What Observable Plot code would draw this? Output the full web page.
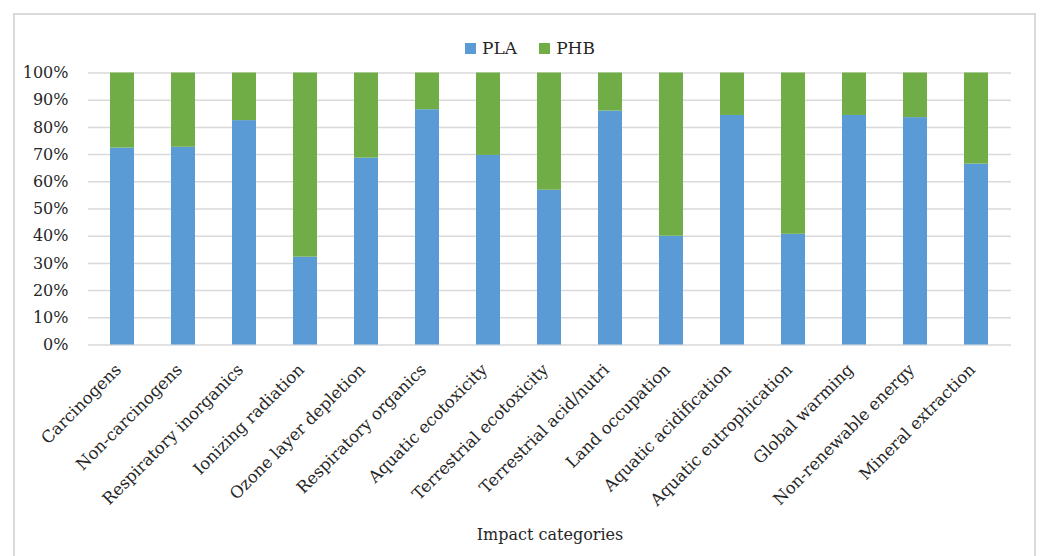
<!DOCTYPE html>
<html>
<head>
<meta charset="utf-8">
<script src="https://cdn.jsdelivr.net/npm/d3@7"></script>
<script src="https://cdn.jsdelivr.net/npm/@observablehq/plot@0.6"></script>
<style>
  body { margin: 0; background: #fff; overflow: hidden; font-family: "DejaVu Serif", serif; color: #262626; }
  #frame { position: absolute; left: 13px; top: 13px; width: 1023px; height: 620px; border: 2px solid #d9d9d9; box-sizing: border-box; pointer-events: none; }
  #legend { height: 60px; box-sizing: border-box; padding-top: 36px; display: flex; justify-content: center; gap: 22px; margin-left: 20px; font-size: 17px; line-height: 24px; }
  .item { display: flex; align-items: center; gap: 6px; }
  .swatch { width: 11px; height: 11px; display: inline-block; }
  #chart svg { display: block; }
</style>
</head>
<body>
<div id="frame"></div>
<div id="legend"></div>
<div id="chart"></div>
<script>
// Impact categories along the x axis
const categories = [
  "Carcinogens", "Non-carcinogens", "Respiratory inorganics", "Ionizing radiation",
  "Ozone layer depletion", "Respiratory organics", "Aquatic ecotoxicity",
  "Terrestrial ecotoxicity", "Terrestrial acid/nutri", "Land occupation",
  "Aquatic acidification", "Aquatic eutrophication", "Global warming",
  "Non-renewable energy", "Mineral extraction"
];

// Share of each impact (%) per material
const plaShare = [72.4, 72.7, 82.5, 32.3, 68.7, 86.5, 69.7, 56.9, 86.0, 40.0, 84.4, 40.7, 84.4, 83.6, 66.5];
const phbShare = [27.6, 27.3, 17.5, 67.7, 31.3, 13.5, 30.3, 43.1, 14.0, 60.0, 15.6, 59.3, 15.6, 16.4, 33.5];

const seriesNames = ["PLA", "PHB"];
const seriesColors = ["#5b9bd5", "#70ad47"];
const yTicks = [0, 10, 20, 30, 40, 50, 60, 70, 80, 90, 100];
const xTitle = "Impact categories";

// Long-format rows, PLA first so it sits at the bottom of each stack
const rows = [];
categories.forEach((c, i) => {
  rows.push({category: c, series: "PLA", value: plaShare[i]});
  rows.push({category: c, series: "PHB", value: phbShare[i]});
});

// Legend above the plot
const legend = document.getElementById("legend");
seriesNames.forEach((name, i) => {
  const item = document.createElement("span");
  item.className = "item";
  const sw = document.createElement("span");
  sw.className = "swatch";
  sw.style.background = seriesColors[i];
  const label = document.createElement("span");
  label.textContent = name;
  item.append(sw, label);
  legend.append(item);
});

const chart = Plot.plot({
  width: 1040,
  height: 496,
  marginLeft: 88,
  marginRight: 29,
  marginTop: 12.5,
  marginBottom: 211.5,
  style: {fontFamily: "DejaVu Serif, serif", fontSize: "16px", color: "#262626", background: "transparent"},
  x: {domain: categories, paddingInner: 0.6, paddingOuter: 0.3, label: null},
  y: {domain: [0, 100], label: null},
  color: {domain: seriesNames, range: seriesColors},
  marks: [
    Plot.gridY(yTicks, {stroke: "#d9d9d9", strokeOpacity: 1, strokeWidth: 1.5}),
    Plot.barY(rows, {x: "category", y: "value", fill: "series"}),
    Plot.axisY(yTicks, {tickSize: 0, tickPadding: 20, tickFormat: d => d + "%", fontSize: 16, label: null}),
    Plot.axisX({tickSize: 0, tickRotate: -45, tickPadding: 22, dx: -4, fontSize: 16.5, label: null}),
    Plot.text([xTitle], {frameAnchor: "bottom", dy: 195, fontSize: 16, text: d => d})
  ]
});
document.getElementById("chart").append(chart);
</script>
</body>
</html>
